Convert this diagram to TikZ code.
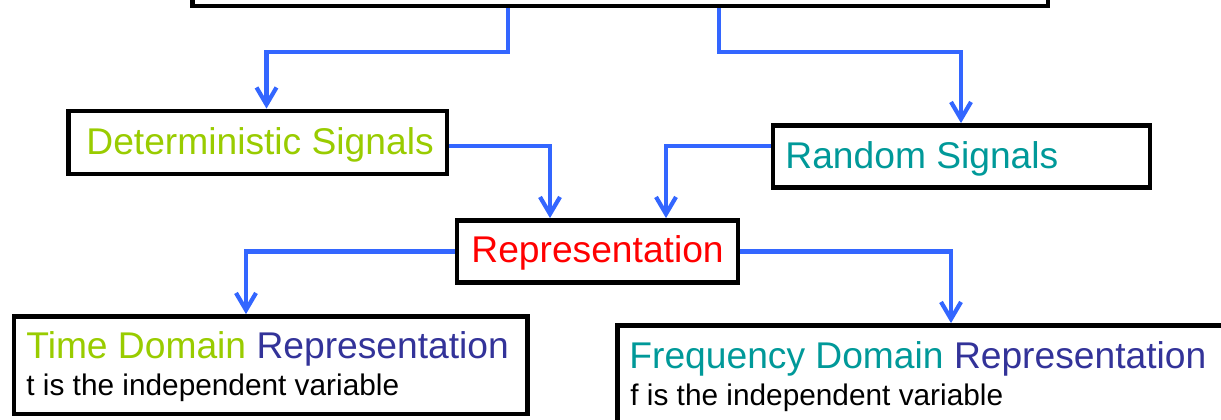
\documentclass[tikz,border=0pt]{standalone}
\usepackage{fontspec}
\setmainfont{Liberation Sans}
\usetikzlibrary{arrows.meta,calc}
\definecolor{cgreen}{HTML}{99CC00}
\definecolor{cteal}{HTML}{009999}
\definecolor{cdblue}{HTML}{333399}
\definecolor{cred}{HTML}{FF0000}
\definecolor{cblue}{HTML}{3366FF}
\tikzset{
  box/.style={draw=black, line width=2.4pt, fill=white, inner sep=0pt, rectangle},
  conn/.style={draw=cblue, line width=2.1pt, -{Straight Barb[length=8.5pt,width=10pt]}},
  lbl/.style={inner sep=0pt, anchor=base west, font=\fontsize{18.6pt}{18.6pt}\selectfont},
  sub/.style={inner sep=0pt, anchor=base west, font=\fontsize{14.9pt}{14.9pt}\selectfont, text=black}
}
\begin{document}
\begin{tikzpicture}[x=0.5pt,y=-0.5pt]
\useasboundingbox (0,0) rectangle (1221,419);
\clip (0,0) rectangle (1221,419);
% boxes
\node[box, minimum width=427.75pt, minimum height=43pt] (top) at (620.25,-37) {};
\node[box, minimum width=189.25pt, minimum height=31.5pt] (det) at (257.75,142.5) {};
\node[box, minimum width=188.5pt, minimum height=31pt] (rnd) at (961.5,156.5) {};
\node[box, minimum width=140.5pt, minimum height=31pt] (rep) at (597.5,251.5) {};
\node[box, minimum width=256.75pt, minimum height=48.75pt] (time) at (270.75,365.25) {};
\node[box, minimum width=311.25pt, minimum height=57.25pt] (freq) at (928.75,382.75) {};
% labels
\node[lbl, text=cgreen] (detl) at (86,154) {Deterministic Signals};
\node[lbl, text=cteal] (rndl) at (785,168) {Random Signals};
\node[lbl, text=cred] (repl) at (471,262) {Representation};
\node[lbl] (time1) at (26,358) {\textcolor{cgreen}{Time Domain} \textcolor{cdblue}{Representation}};
\node[sub] (time2) at (26,395) {t is the independent variable};
\node[lbl] (freq1) at (629,368) {\textcolor{cteal}{Frequency Domain} \textcolor{cdblue}{Representation}};
\node[sub] (freq2) at (630,405) {f is the independent variable};
% connector guide coordinates
\coordinate (j) at (0,52);
\coordinate (s1) at (508,0);
\coordinate (s2) at (719,0);
\coordinate (d1) at (266.5,0);
\coordinate (d2) at (961,0);
\coordinate (d3) at (550,0);
\coordinate (d4) at (666,0);
\coordinate (d5) at (246,0);
\coordinate (d6) at (951,0);
% connectors
\draw[conn] (s1 |- top.south) |- (d1 |- j) -- (d1 |- det.north);
\draw[conn] (s2 |- top.south) |- (d2 |- j) -- (d2 |- rnd.north);
\draw[conn] ([yshift=-1.75pt]det.east) -| (d3 |- rep.north);
\draw[conn] ([yshift=5.25pt]rnd.west) -| (d4 |- rep.north);
\draw[conn] (rep.west) -| (d5 |- time.north);
\draw[conn] (rep.east) -| (d6 |- freq.north);
\end{tikzpicture}
\end{document}
